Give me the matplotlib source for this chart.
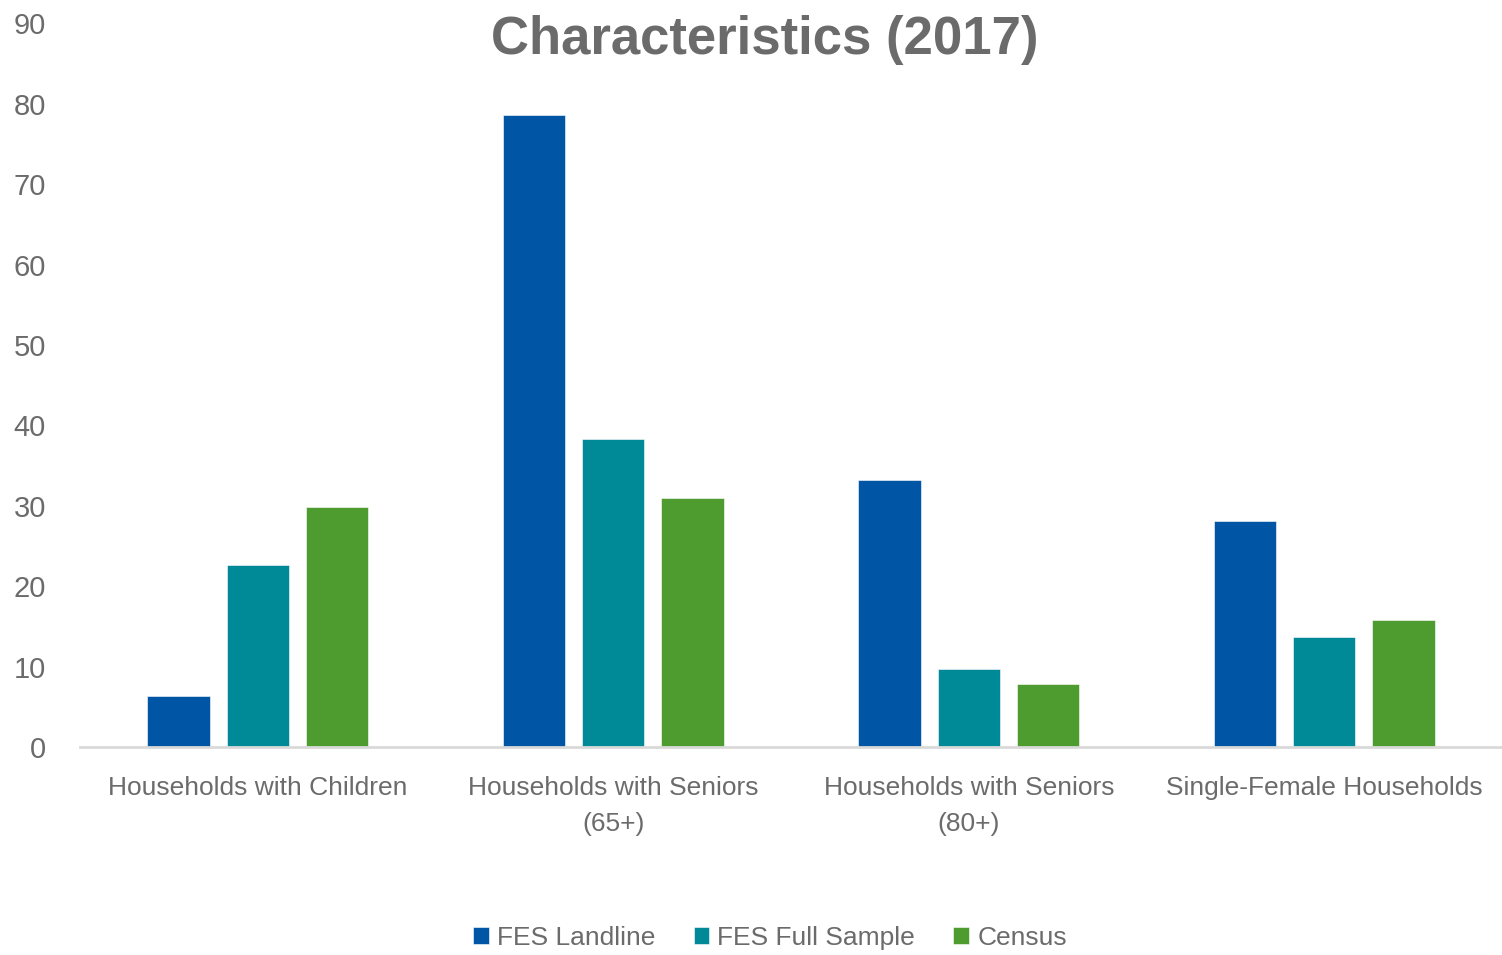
import matplotlib
matplotlib.use("Agg")
import matplotlib.pyplot as plt
from matplotlib import font_manager
import numpy as np

categories = ["Households with Children", "Households with Seniors\n(65+)",
              "Households with Seniors\n(80+)", "Single-Female Households"]
series_names = ["FES Landline", "FES Full Sample", "Census"]
fes_landline = [6.3, 78.6, 33.2, 28.1]
fes_full = [22.6, 38.3, 9.7, 13.7]
census = [29.9, 31.0, 7.8, 15.8]
yticks = [0, 10, 20, 30, 40, 50, 60, 70, 80, 90]
title = "Characteristics (2017)"

colors = ["#0056A5", "#008996", "#4E9C2F"]
text_color = "#6B6B6B"

names = {f.name for f in font_manager.fontManager.ttflist}
fam = "Liberation Sans Narrow" if "Liberation Sans Narrow" in names else "Liberation Sans"
plt.rcParams['font.family'] = [fam, 'DejaVu Sans']

fig = plt.figure(figsize=(15.02, 9.55), dpi=100)
ax = fig.add_axes([80/1502, 1-747/955, 1-80/1502, (747-23.5)/955])

x = np.arange(len(categories))
width = 0.175
step = 0.223
for i, (vals, name) in enumerate(zip([fes_landline, fes_full, census], series_names)):
    ax.bar(x + (i-1)*step, vals, width, color=colors[i], label=name,
           edgecolor="white", linewidth=0.4, zorder=2)

ax.set_xlim(-0.5, len(categories)-0.5)
ax.set_ylim(0, 90)
ax.set_yticks(yticks)
ax.set_yticklabels([str(t) for t in yticks], fontsize=21, color=text_color)
ax.set_xticks(x)
ax.set_xticklabels(categories, fontsize=19, color=text_color, linespacing=1.6)
ax.tick_params(axis='both', length=0)
ax.tick_params(axis='y', pad=24.5)
ax.tick_params(axis='x', pad=21)
for lbl in ax.get_yticklabels():
    lbl.set_horizontalalignment('right')
for s in ['top', 'right', 'left']:
    ax.spines[s].set_visible(False)
ax.spines['bottom'].set_color("#D9D9D9")
ax.spines['bottom'].set_linewidth(2)

fig.text(765/1502, 1-40/955, title, ha='center', va='center', fontsize=38,
         fontweight='bold', color="#6B6B6B")

leg = fig.legend(loc='center', bbox_to_anchor=(770/1502, 1-938/955), ncol=3,
                 frameon=False, fontsize=19, handlelength=0.6, handleheight=0.6,
                 handletextpad=0.3, columnspacing=1.45)
for t in leg.get_texts():
    t.set_color(text_color)

fig.savefig("out.png", dpi=100)
